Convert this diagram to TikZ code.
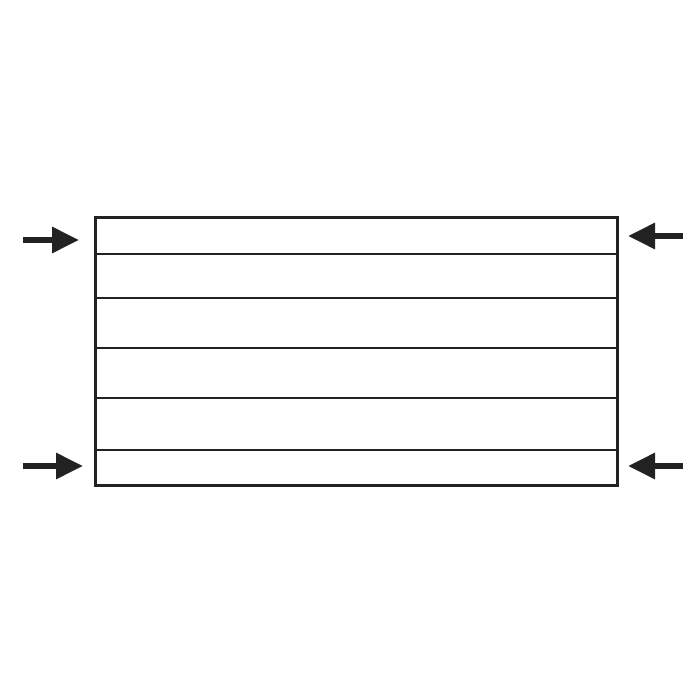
\documentclass[tikz,border=0pt]{standalone}
\usetikzlibrary{arrows.meta}
\definecolor{ink}{HTML}{222222}
\tikzset{
  frame/.style={draw=ink, line width=3pt},
  strip/.style={draw=ink, line width=2.6pt},
  inarrow/.style={draw=ink, line width=6pt, -{Triangle[length=27pt,width=25pt]}},
}
\begin{document}
\begin{tikzpicture}[x=1pt,y=-1pt]
\useasboundingbox (0,0) rectangle (700,700);
\fill[white] (0,0) rectangle (700,700);
% panel
\draw[frame] (95,218) rectangle (617,485);
\foreach \yy in {254,298,348,398,450} \draw[strip] (95,\yy) -- (617,\yy);
% arrows
\coordinate (lts) at (23,240);  \coordinate (ltt) at (79,240);
\coordinate (rts) at (683,236); \coordinate (rtt) at (628,236);
\coordinate (lbs) at (23,466);  \coordinate (lbt) at (83,466);
\coordinate (rbs) at (683,466); \coordinate (rbt) at (628,466);
\draw[inarrow] (lts) -- (ltt);
\draw[inarrow] (rts) -- (rtt);
\draw[inarrow] (lbs) -- (lbt);
\draw[inarrow] (rbs) -- (rbt);
\end{tikzpicture}
\end{document}
